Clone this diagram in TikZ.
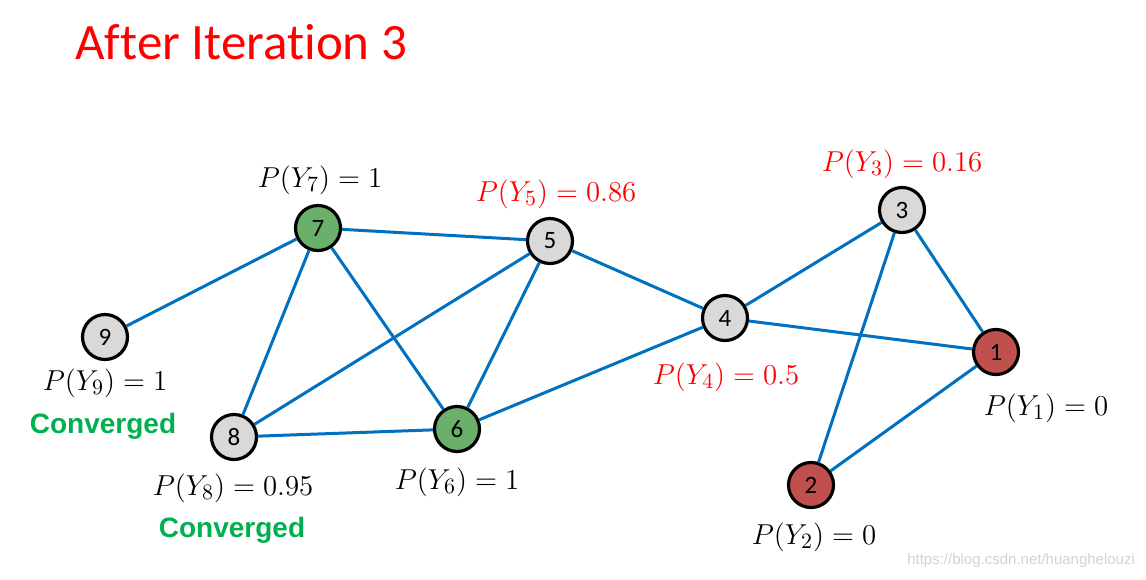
\documentclass[tikz,border=0pt]{standalone}
\usepackage{fontspec}
\setmainfont{Carlito}[Ligatures=NoCommon]
\newfontfamily\convfont{Liberation Sans}
\newfontfamily\markfont{Liberation Sans}
\definecolor{edgeblue}{RGB}{0,112,192}
\definecolor{nodegray}{RGB}{217,217,217}
\definecolor{nodegreen}{RGB}{106,175,106}
\definecolor{nodered}{RGB}{192,80,77}
\definecolor{convgreen}{RGB}{0,176,80}
\begin{document}
\begin{tikzpicture}[
        x=0.5pt, y=-0.5pt,
        vertex/.style={circle, draw=black, line width=1.6pt, minimum size=22.5pt, inner sep=0pt, font=\fontsize{12.5}{14}\selectfont},
        unknown/.style={vertex, fill=nodegray},
        positive/.style={vertex, fill=nodegreen},
        negative/.style={vertex, fill=nodered},
        edge/.style={draw=edgeblue, line width=1.5pt},
        prob_label/.style={font=\fontsize{15.5}{17}\selectfont},
        conv_label/.style={font=\convfont\bfseries\fontsize{14}{16}\selectfont, text=convgreen}
    ]
        \useasboundingbox (0,0) rectangle (1146,579);

        % Title
        \node[anchor=base west, inner sep=0pt, text=red, font=\fontsize{25.5}{28}\selectfont] (title) at (75,59) {After Iteration 3};

        % Nodes
        \node[negative] (n1) at (996,352) {1};
        \node[negative] (n2) at (811,485) {2};
        \node[unknown] (n3) at (902,210) {3};
        \node[unknown] (n4) at (725,318) {4};
        \node[unknown] (n5) at (550,241) {5};
        \node[positive] (n6) at (457,429) {6};
        \node[positive] (n7) at (318,228) {7};
        \node[unknown] (n8) at (234,437) {8};
        \node[unknown] (n9) at (105,337) {9};

        % Edges
        \draw[edge] (n9) -- (n7);
        \draw[edge] (n7) -- (n5);
        \draw[edge] (n7) -- (n8);
        \draw[edge] (n7) -- (n6);
        \draw[edge] (n5) -- (n8);
        \draw[edge] (n5) -- (n6);
        \draw[edge] (n5) -- (n4);
        \draw[edge] (n8) -- (n6);
        \draw[edge] (n6) -- (n4);
        \draw[edge] (n4) -- (n3);
        \draw[edge] (n4) -- (n1);
        \draw[edge] (n3) -- (n1);
        \draw[edge] (n3) -- (n2);
        \draw[edge] (n1) -- (n2);

        % Probability labels
        \node[prob_label] (p7) at (320,180) {$P(Y_7)=1$};
        \node[prob_label, text=red] (p5) at (556,194) {$P(Y_5)=0.86$};
        \node[prob_label, text=red] (p3) at (902,164) {$P(Y_3)=0.16$};
        \node[prob_label] (p9) at (105,383) {$P(Y_9)=1$};
        \node[prob_label] (p8) at (233,488) {$P(Y_8)=0.95$};
        \node[prob_label] (p6) at (457,482) {$P(Y_6)=1$};
        \node[prob_label, text=red] (p4) at (726,377) {$P(Y_4)=0.5$};
        \node[prob_label] (p1) at (1046,408) {$P(Y_1)=0$};
        \node[prob_label] (p2) at (814,537) {$P(Y_2)=0$};

        % Converged marks
        \node[conv_label] (c9) at (103,426) {Converged};
        \node[conv_label] (c8) at (232,530) {Converged};

        % Watermark
        \node[anchor=east, text=gray!35, font=\markfont\fontsize{7.5}{9}\selectfont] (mark) at (1142,561) {https://blog.csdn.net/huanghelouzi};
    \end{tikzpicture}
\end{document}
